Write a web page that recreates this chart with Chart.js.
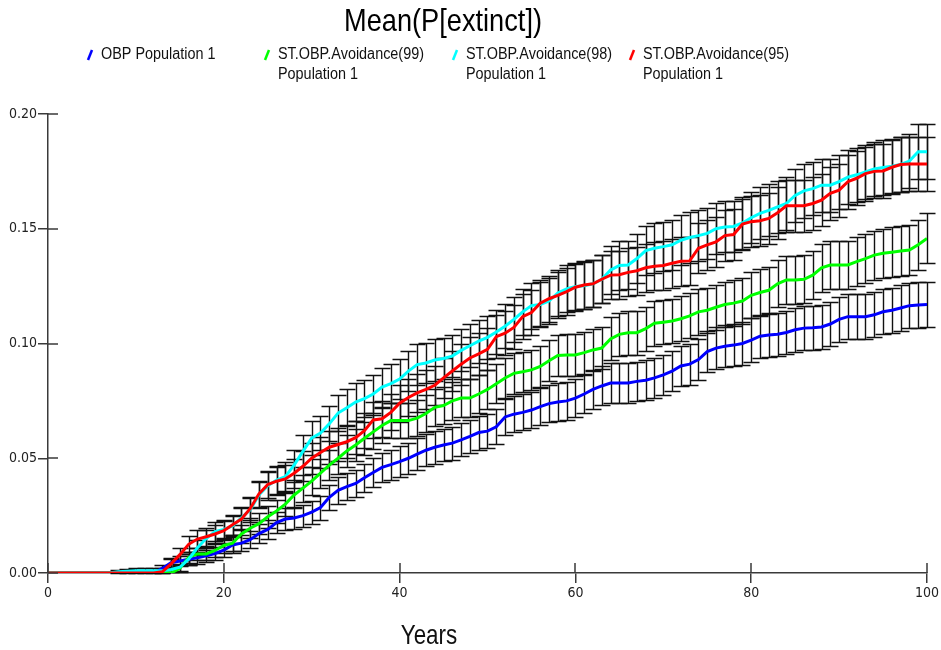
<!DOCTYPE html>
<html>
<head>
<meta charset="utf-8">
<script src="https://cdn.jsdelivr.net/npm/chart.js@4/dist/chart.umd.min.js"></script>
<style>
  html, body { margin: 0; padding: 0; background: #fff; }
  #wrap { width: 941px; height: 650px; }
</style>
</head>
<body>
<div id="wrap"><canvas id="extinctChart" width="941" height="650"></canvas></div>
<script>
// --- data: mean P[extinct] per year, and the error bar half-width ---

const CHART_TITLE = 'Mean(P[extinct])';
const X_TITLE = 'Years';
const X_TICKS = [0, 20, 40, 60, 80, 100];
const Y_TICKS = [0, 0.05, 0.10, 0.15, 0.20];

const seriesNames = [
    ['OBP Population 1'],
    ['ST.OBP.Avoidance(99)', 'Population 1'],
    ['ST.OBP.Avoidance(98)', 'Population 1'],
    ['ST.OBP.Avoidance(95)', 'Population 1']
];
const seriesColors = ['#0000ff', '#00ff00', '#00ffff', '#ff0000'];

// years 0..100
const obpPop1 = [
    0, 0, 0, 0, 0, 0, 0, 0, 0, 0,
    0, 0, 0, 0.002, 0.0045, 0.0052, 0.006, 0.0066, 0.0075, 0.0085,
    0.010, 0.0122, 0.013, 0.0145, 0.0172, 0.019, 0.022, 0.0235, 0.024, 0.025,
    0.0265, 0.0285, 0.033, 0.036, 0.0376, 0.039, 0.0415, 0.0438, 0.046, 0.0472,
    0.0485, 0.050, 0.0518, 0.0535, 0.0548, 0.0558, 0.0566, 0.058, 0.0595, 0.0612,
    0.0618, 0.0637, 0.068, 0.0692, 0.070, 0.071, 0.0725, 0.0738, 0.0745, 0.075,
    0.0762, 0.078, 0.080, 0.0815, 0.0828, 0.0828, 0.0828, 0.0835, 0.084, 0.085,
    0.0863, 0.088, 0.0902, 0.091, 0.093, 0.0965, 0.098, 0.0988, 0.0993, 0.100,
    0.1015, 0.1032, 0.1037, 0.104, 0.1048, 0.106, 0.1067, 0.1069, 0.1072, 0.1085,
    0.1105, 0.1117, 0.1117, 0.1117, 0.1125, 0.1138, 0.1145, 0.1155, 0.1165, 0.1168,
    0.117
];
const obpPop1Err = [
    0, 0, 0, 0, 0, 0, 0, 0, 0, 0,
    0, 0, 0, 0.0014, 0.0021, 0.0022, 0.0024, 0.0025, 0.0027, 0.0029,
    0.0031, 0.0034, 0.0035, 0.0037, 0.004, 0.0042, 0.0046, 0.0047, 0.0047, 0.0048,
    0.005, 0.0052, 0.0055, 0.0058, 0.0059, 0.006, 0.0062, 0.0063, 0.0065, 0.0066,
    0.0067, 0.0068, 0.0069, 0.007, 0.0071, 0.0071, 0.0072, 0.0072, 0.0073, 0.0074,
    0.0075, 0.0076, 0.0078, 0.0079, 0.0079, 0.008, 0.008, 0.0081, 0.0082, 0.0082,
    0.0082, 0.0083, 0.0084, 0.0085, 0.0086, 0.0086, 0.0086, 0.0086, 0.0086, 0.0087,
    0.0087, 0.0088, 0.0089, 0.0089, 0.009, 0.0091, 0.0092, 0.0092, 0.0093, 0.0093,
    0.0094, 0.0094, 0.0094, 0.0095, 0.0095, 0.0095, 0.0096, 0.0096, 0.0096, 0.0096,
    0.0097, 0.0098, 0.0098, 0.0098, 0.0098, 0.0098, 0.0099, 0.0099, 0.0099, 0.010,
    0.010
];

const avoid99 = [
    0, 0, 0, 0, 0, 0, 0, 0, 0, 0,
    0, 0, 0, 0, 0, 0.002, 0.0068, 0.0083, 0.0083, 0.0098,
    0.012, 0.013, 0.017, 0.0195, 0.0215, 0.0245, 0.027, 0.030, 0.034, 0.037,
    0.040, 0.0435, 0.047, 0.050, 0.0532, 0.0558, 0.0587, 0.0615, 0.0643, 0.0664,
    0.0664, 0.0664, 0.0675, 0.0695, 0.0722, 0.073, 0.075, 0.0762, 0.0762, 0.078,
    0.080, 0.0825, 0.085, 0.087, 0.0877, 0.0885, 0.090, 0.0925, 0.0948, 0.095,
    0.095, 0.096, 0.0972, 0.098, 0.102, 0.104, 0.1047, 0.1047, 0.1065, 0.1088,
    0.1093, 0.1098, 0.1108, 0.112, 0.1138, 0.1145, 0.1158, 0.117, 0.1176, 0.1185,
    0.121, 0.1222, 0.1232, 0.126, 0.1277, 0.1277, 0.128, 0.1298, 0.133, 0.1342,
    0.1342, 0.1342, 0.1357, 0.137, 0.1385, 0.1393, 0.1398, 0.1403, 0.1407, 0.143,
    0.1458
];
const avoid99Err = [
    0, 0, 0, 0, 0, 0, 0, 0, 0, 0,
    0, 0, 0, 0, 0, 0.0014, 0.0025, 0.0028, 0.0028, 0.003,
    0.0034, 0.0035, 0.004, 0.0043, 0.0045, 0.0048, 0.005, 0.0053, 0.0056, 0.0059,
    0.0061, 0.0063, 0.0066, 0.0068, 0.007, 0.0071, 0.0073, 0.0075, 0.0076, 0.0077,
    0.0077, 0.0077, 0.0078, 0.0079, 0.0081, 0.0081, 0.0082, 0.0082, 0.0082, 0.0083,
    0.0084, 0.0086, 0.0087, 0.0088, 0.0088, 0.0088, 0.0089, 0.009, 0.0091, 0.0091,
    0.0091, 0.0091, 0.0092, 0.0092, 0.0094, 0.0095, 0.0095, 0.0095, 0.0096, 0.0097,
    0.0097, 0.0097, 0.0097, 0.0098, 0.0099, 0.0099, 0.0099, 0.010, 0.010, 0.010,
    0.0101, 0.0102, 0.0102, 0.0103, 0.0103, 0.0103, 0.0104, 0.0104, 0.0105, 0.0106,
    0.0106, 0.0106, 0.0106, 0.0107, 0.0107, 0.0107, 0.0108, 0.0108, 0.0108, 0.0109,
    0.0109
];

const avoid98 = [
    0, 0, 0, 0, 0, 0, 0, 0, 0.0005, 0.0008,
    0.001, 0.001, 0.001, 0.001, 0.0015, 0.0025, 0.006, 0.011, 0.015, 0.018,
    0.019, 0.0205, 0.024, 0.0275, 0.034, 0.038, 0.0405, 0.042, 0.047, 0.053,
    0.0588, 0.061, 0.065, 0.0697, 0.072, 0.0745, 0.076, 0.078, 0.081, 0.0825,
    0.0845, 0.088, 0.0908, 0.0915, 0.0928, 0.0935, 0.0945, 0.097, 0.099, 0.101,
    0.1027, 0.105, 0.1075, 0.1105, 0.1138, 0.1165, 0.117, 0.1185, 0.122, 0.1238,
    0.1248, 0.1252, 0.126, 0.128, 0.132, 0.134, 0.1342, 0.137, 0.1405, 0.1415,
    0.1422, 0.143, 0.145, 0.1462, 0.147, 0.148, 0.150, 0.1508, 0.151, 0.1525,
    0.1548, 0.1567, 0.158, 0.1595, 0.161, 0.1645, 0.1665, 0.1675, 0.169, 0.169,
    0.1705, 0.1725, 0.1735, 0.1748, 0.176, 0.1767, 0.1772, 0.178, 0.1795, 0.1836,
    0.1836
];
const avoid98Err = [
    0, 0, 0, 0, 0, 0, 0, 0, 0.0007, 0.0009,
    0.001, 0.001, 0.001, 0.001, 0.0012, 0.0015, 0.0024, 0.0033, 0.0038, 0.0041,
    0.0042, 0.0044, 0.0047, 0.0051, 0.0056, 0.006, 0.0062, 0.0063, 0.0066, 0.007,
    0.0073, 0.0074, 0.0076, 0.0079, 0.008, 0.0082, 0.0082, 0.0083, 0.0085, 0.0086,
    0.0086, 0.0088, 0.0089, 0.0089, 0.009, 0.009, 0.0091, 0.0092, 0.0093, 0.0093,
    0.0094, 0.0095, 0.0096, 0.0097, 0.0099, 0.010, 0.010, 0.0101, 0.0102, 0.0102,
    0.0103, 0.0103, 0.0103, 0.0104, 0.0105, 0.0106, 0.0106, 0.0107, 0.0108, 0.0108,
    0.0108, 0.0109, 0.0109, 0.011, 0.011, 0.011, 0.0111, 0.0111, 0.0111, 0.0112,
    0.0112, 0.0113, 0.0113, 0.0114, 0.0114, 0.0115, 0.0116, 0.0116, 0.0116, 0.0116,
    0.0117, 0.0117, 0.0117, 0.0118, 0.0118, 0.0118, 0.0118, 0.0119, 0.0119, 0.012,
    0.012
];

const avoid95 = [
    0, 0, 0, 0, 0, 0, 0, 0, 0, 0,
    0, 0, 0, 0.0005, 0.004, 0.008, 0.0125, 0.0148, 0.0158, 0.017,
    0.0185, 0.021, 0.0235, 0.028, 0.0345, 0.0385, 0.040, 0.041, 0.0435, 0.0465,
    0.050, 0.0525, 0.0548, 0.056, 0.0572, 0.059, 0.062, 0.0667, 0.0672, 0.070,
    0.074, 0.0765, 0.0785, 0.080, 0.0818, 0.085, 0.088, 0.091, 0.0937, 0.0955,
    0.0975, 0.103, 0.1045, 0.107, 0.1117, 0.1135, 0.1176, 0.1195, 0.121, 0.1226,
    0.1245, 0.1255, 0.126, 0.128, 0.1298, 0.130, 0.131, 0.1317, 0.133, 0.1337,
    0.134, 0.135, 0.1358, 0.136, 0.1415, 0.143, 0.1443, 0.147, 0.1475, 0.152,
    0.1531, 0.1535, 0.1545, 0.157, 0.160, 0.160, 0.160, 0.161, 0.1625, 0.1654,
    0.1668, 0.1705, 0.172, 0.174, 0.175, 0.1752, 0.1768, 0.178, 0.1782, 0.1782,
    0.1782
];
const avoid95Err = [
    0, 0, 0, 0, 0, 0, 0, 0, 0, 0,
    0, 0, 0, 0.0007, 0.002, 0.0028, 0.0035, 0.0038, 0.0039, 0.004,
    0.0042, 0.0044, 0.0047, 0.0051, 0.0057, 0.006, 0.0061, 0.0062, 0.0063, 0.0065,
    0.0068, 0.0069, 0.0071, 0.0071, 0.0072, 0.0073, 0.0075, 0.0077, 0.0078, 0.0079,
    0.0081, 0.0082, 0.0083, 0.0084, 0.0085, 0.0087, 0.0088, 0.0089, 0.009, 0.0091,
    0.0092, 0.0094, 0.0095, 0.0096, 0.0098, 0.0098, 0.010, 0.0101, 0.0101, 0.0102,
    0.0102, 0.0103, 0.0103, 0.0104, 0.0104, 0.0104, 0.0105, 0.0105, 0.0105, 0.0105,
    0.0106, 0.0106, 0.0106, 0.0106, 0.0108, 0.0109, 0.0109, 0.011, 0.011, 0.0111,
    0.0112, 0.0112, 0.0112, 0.0113, 0.0114, 0.0114, 0.0114, 0.0114, 0.0114, 0.0115,
    0.0116, 0.0117, 0.0117, 0.0118, 0.0118, 0.0118, 0.0118, 0.0119, 0.0119, 0.0119,
    0.0119
];

const seriesValues = [obpPop1, avoid99, avoid98, avoid95];
const seriesErrors = [obpPop1Err, avoid99Err, avoid98Err, avoid95Err];

// --- looks ---
const FONT = "'Liberation Sans Narrow', 'DejaVu Sans Condensed', 'Liberation Sans', sans-serif";
const ARIAL = "'Liberation Sans', Arial, sans-serif";
const AXIS_COLOR = '#3a3a3a';
const TICK_LEN = 10;
const CAP_HALF = 8;

// turn a list of y values into {x: year, y} points
function toPoints(values) {
    return values.map((v, i) => ({ x: i, y: v }));
}

// Arial squeezed sideways, like the narrow font of the original
function narrowText(ctx, txt, x, y, size, squeeze, align) {
    ctx.save();
    ctx.font = size + 'px ' + ARIAL;
    ctx.textAlign = align;
    ctx.textBaseline = 'middle';
    ctx.translate(x, y);
    ctx.scale(squeeze, 1);
    ctx.fillText(txt, 0, 0);
    ctx.restore();
}

// error bars: vertical line + caps, drawn under the coloured lines
const errorBarPlugin = {
    id: 'errorBars',
    beforeDatasetsDraw(chart) {
        const ctx = chart.ctx;
        const xs = chart.scales.x;
        const ys = chart.scales.y;
        ctx.save();
        ctx.strokeStyle = '#111';
        ctx.lineWidth = 1.4;
        seriesValues.forEach((vals, s) => {
            const errs = seriesErrors[s];
            vals.forEach((v, i) => {
                const e = errs[i];
                if (!e) return;
                const px = Math.round(xs.getPixelForValue(i)) + 0.5;
                const top = Math.round(ys.getPixelForValue(v + e)) + 0.5;
                const bot = Math.round(ys.getPixelForValue(Math.max(0, v - e))) + 0.5;
                ctx.beginPath();
                ctx.moveTo(px, top);
                ctx.lineTo(px, bot);
                ctx.moveTo(px - CAP_HALF, top);
                ctx.lineTo(px + CAP_HALF, top);
                ctx.moveTo(px - CAP_HALF, bot);
                ctx.lineTo(px + CAP_HALF, bot);
                ctx.stroke();
            });
        });
        ctx.restore();
    }
};

// tick marks in the original cross the axis, so add the inner half;
// then title, axis title and legend (slanted colour stroke + two line label)
const axisAndLegendPlugin = {
    id: 'axisAndLegend',
    afterDraw(chart) {
        const ctx = chart.ctx;
        const xs = chart.scales.x;
        const ys = chart.scales.y;
        const area = chart.chartArea;
        ctx.save();
        ctx.strokeStyle = AXIS_COLOR;
        ctx.lineWidth = 1.5;
        ctx.beginPath();
        X_TICKS.forEach(t => {
            const px = Math.round(xs.getPixelForValue(t));
            ctx.moveTo(px, area.bottom);
            ctx.lineTo(px, area.bottom - TICK_LEN);
        });
        Y_TICKS.forEach(t => {
            const py = Math.round(ys.getPixelForValue(t));
            ctx.moveTo(area.left, py);
            ctx.lineTo(area.left + TICK_LEN, py);
        });
        ctx.stroke();

        // title and axis title (the original sets them left of centre)
        ctx.fillStyle = '#000';
        narrowText(ctx, CHART_TITLE, 443, 22, 32, 0.85, 'center');
        ctx.fillStyle = '#111';
        narrowText(ctx, X_TITLE, 429, 636, 28, 0.8, 'center');

        // legend
        const legendX = [88, 265, 453, 630];
        const rowY = 55;
        const rowH = 20;
        seriesNames.forEach((lines, k) => {
            const x0 = legendX[k];
            ctx.strokeStyle = seriesColors[k];
            ctx.lineWidth = 2.5;
            ctx.beginPath();
            ctx.moveTo(x0, rowY + 5);
            ctx.lineTo(x0 + 4, rowY - 5);
            ctx.stroke();
            ctx.fillStyle = '#111';
            lines.forEach((txt, j) => {
                narrowText(ctx, txt, x0 + 13, rowY + j * rowH, 16, 0.9, 'left');
            });
        });
        ctx.restore();
    }
};

const datasets = seriesValues.map((vals, k) => ({
    label: seriesNames[k].join(' '),
    data: toPoints(vals),
    borderColor: seriesColors[k],
    backgroundColor: seriesColors[k],
    borderWidth: 3,
    pointRadius: 0,
    tension: 0,
    fill: false,
    order: 3 - k
}));

new Chart(document.getElementById('extinctChart'), {
    type: 'line',
    data: { datasets: datasets },
    options: {
        responsive: false,
        animation: false,
        devicePixelRatio: 1,
        layout: { padding: { left: 0, right: 14, top: 114, bottom: 0 } },
        plugins: {
            legend: { display: false },
            tooltip: { enabled: false },
            title: { display: false }
        },
        scales: {
            x: {
                type: 'linear',
                min: 0,
                max: 100,
                afterFit(scale) { scale.height = 77; },
                afterBuildTicks(scale) { scale.ticks = X_TICKS.map(v => ({ value: v })); },
                grid: { drawOnChartArea: false, drawTicks: true, tickLength: TICK_LEN, color: AXIS_COLOR, lineWidth: 1.5 },
                border: { display: true, color: AXIS_COLOR, width: 1.5 },
                ticks: { color: '#222', font: { family: FONT, size: 14 }, padding: 2, maxRotation: 0 }
            },
            y: {
                min: 0,
                max: 0.2,
                afterFit(scale) { scale.width = 48; },
                afterBuildTicks(scale) { scale.ticks = Y_TICKS.map(v => ({ value: v })); },
                grid: { drawOnChartArea: false, drawTicks: true, tickLength: TICK_LEN, color: AXIS_COLOR, lineWidth: 1.5 },
                border: { display: true, color: AXIS_COLOR, width: 1.5 },
                ticks: {
                    color: '#222',
                    font: { family: FONT, size: 14 },
                    padding: 1,
                    callback: v => v.toFixed(2)
                }
            }
        }
    },
    plugins: [errorBarPlugin, axisAndLegendPlugin]
});
</script>
</body>
</html>
